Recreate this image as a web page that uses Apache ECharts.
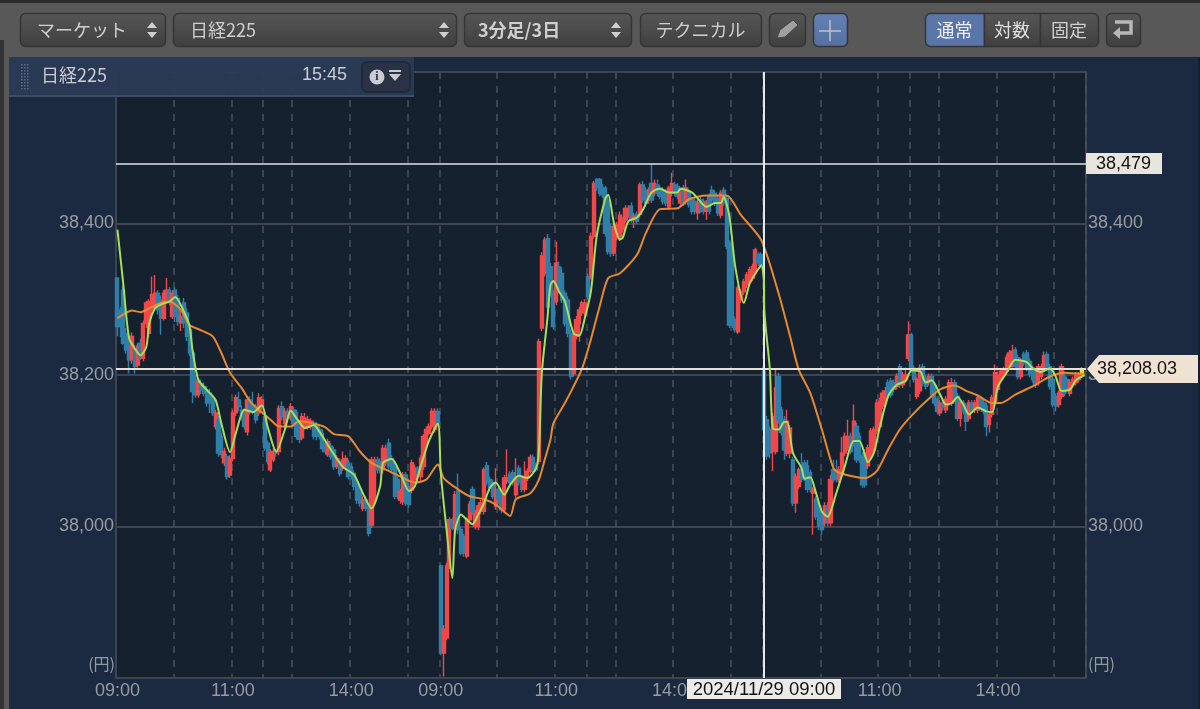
<!DOCTYPE html>
<html><head><meta charset="utf-8">
<style>html,body{margin:0;padding:0;background:#1b2a40}#c{width:1200px;height:709px}</style>
<script src="https://cdn.jsdelivr.net/npm/echarts@6/dist/echarts.min.js"></script>
</head><body><div id="c"></div>
<script>
// candles: [open, close, low, high]
const day1Candles=[
[38328,38264,38251,38328],[38286,38264,38250,38290],[38312,38242,38240,38318],[38255,38233,38228,38262],[38251,38220,38202,38255],[38220,38251,38215,38256],[38233,38211,38202,38240],[38213,38238,38210,38242],[38242,38224,38220,38248],[38222,38268,38218,38272],
[38268,38295,38262,38298],[38255,38297,38250,38300],[38286,38306,38280,38330],[38290,38308,38285,38332],[38308,38286,38280,38312],[38299,38275,38253,38305],[38275,38308,38272,38312],[38301,38312,38298,38328],[38312,38297,38292,38316],[38277,38308,38274,38312],
[38312,38277,38270,38316],[38301,38271,38265,38306],[38269,38277,38258,38285],[38295,38269,38262,38302],[38282,38251,38245,38288],[38260,38229,38225,38265],[38229,38178,38163,38232],[38194,38174,38170,38200],[38174,38191,38170,38196],[38189,38180,38175,38194],
[38185,38176,38172,38190],[38180,38163,38158,38185],[38176,38163,38150,38182],[38170,38150,38146,38174],[38132,38150,38128,38154],[38141,38097,38092,38146],[38119,38095,38090,38124],[38084,38099,38080,38104],[38092,38066,38062,38096],[38068,38090,38064,38094],
[38090,38150,38086,38154],[38150,38170,38146,38174],[38167,38158,38152,38178],[38154,38145,38140,38160],[38150,38132,38128,38156],[38125,38167,38120,38172],[38167,38152,38148,38172],[38158,38154,38148,38178],[38158,38141,38136,38162],[38150,38170,38146,38176],
[38158,38167,38154,38172],[38145,38104,38100,38150],[38110,38086,38082,38114],[38075,38097,38072,38102],[38088,38099,38085,38104],[38099,38097,38092,38102],[38099,38156,38094,38160],[38158,38145,38140,38165],[38136,38152,38132,38156],[38152,38143,38138,38156],
[38145,38158,38140,38163],[38154,38136,38132,38158],[38150,38119,38115,38154],[38136,38115,38110,38140],[38117,38145,38114,38150],[38132,38143,38128,38150],[38132,38141,38128,38146],[38132,38139,38128,38143],[38136,38119,38115,38140],[38134,38119,38114,38138],
[38128,38119,38115,38132],[38123,38103,38098,38128],[38110,38099,38095,38114],[38095,38112,38092,38116],[38106,38092,38088,38110],[38101,38079,38075,38105],[38079,38090,38076,38094],[38086,38070,38066,38090],[38077,38088,38074,38099],[38077,38090,38074,38094],
[38084,38066,38062,38088],[38079,38066,38062,38084],[38070,38053,38048,38074],[38057,38035,38030,38062],[38048,38031,38026,38052],[38024,38035,38020,38040],[38035,38024,38020,38040],[38024,37991,37987,38028],[38002,38088,37998,38092],[38035,38088,38030,38092],
[38088,38075,38070,38092],[38086,38075,38070,38090],[38075,38103,38070,38108],[38084,38103,38080,38108],[38110,38079,38075,38116],[38090,38075,38070,38094],[38079,38040,38036,38084],[38062,38040,38036,38066],[38035,38046,38030,38050],[38033,38068,38028,38072],
[38068,38031,38027,38072],[38053,38029,38025,38058],[38048,38084,38044,38088],[38062,38077,38058,38082],[38077,38070,38065,38080],[38066,38090,38060,38094],[38079,38119,38075,38122],[38110,38128,38105,38132],[38123,38132,38120,38136],[38132,38152,38128,38156],
[38128,38152,38124,38156],[38152,38137,38132,38156]];
const day2Candles=[
[37948,37833,37830,37950],[37833,37864,37802,37870],[37853,37948,37850,37952],[37948,38009,37944,38012],[38009,37998,37995,38012],[37998,38042,37990,38047],[38047,37996,37990,38070],[37996,37965,37962,38000],[37987,37965,37960,37990],[37961,38009,37958,38012],
[38009,38029,38005,38034],[38049,38020,38015,38053],[38000,38018,37996,38022],[38000,38027,37995,38032],[38020,38031,38016,38035],[38020,38075,38016,38078],[38080,38058,38054,38085],[38062,38051,38046,38066],[38058,38040,38036,38062],[38027,38049,38022,38077],
[38049,38036,38030,38054],[38040,38022,38018,38044],[38022,38064,38018,38068],[38060,38064,38056,38102],[38069,38058,38054,38073],[38071,38058,38054,38075],[38042,38064,38038,38090],[38077,38058,38054,38081],[38062,38049,38045,38066],[38049,38066,38045,38086],
[38064,38073,38060,38077],[38073,38091,38070,38095],[38091,38075,38072,38095],[38080,38075,38072,38084],[38086,38244,38082,38248],[38262,38357,38258,38362],[38334,38378,38330,38382],[38380,38290,38284,38386],[38343,38308,38304,38348],[38308,38264,38260,38312],
[38297,38348,38292,38376],[38343,38312,38308,38350],[38334,38299,38295,38342],[38308,38268,38264,38312],[38299,38255,38250,38304],[38255,38198,38194,38260],[38202,38251,38198,38255],[38251,38273,38247,38278],[38268,38286,38244,38290],[38282,38295,38278,38298],
[38282,38295,38278,38300],[38330,38304,38300,38334],[38330,38383,38326,38388],[38383,38453,38380,38456],[38458,38447,38443,38460],[38458,38440,38436,38460],[38447,38438,38434,38452],[38447,38387,38383,38450],[38431,38363,38359,38435],[38396,38361,38356,38400],
[38361,38396,38357,38400],[38381,38398,38378,38402],[38381,38411,38377,38416],[38392,38405,38388,38408],[38405,38420,38401,38424],[38412,38420,38408,38424],[38423,38405,38401,38428],[38405,38410,38394,38414],[38412,38403,38399,38416],[38412,38451,38408,38454],
[38451,38431,38427,38456],[38444,38427,38422,38448],[38431,38444,38426,38448],[38453,38431,38427,38479],[38440,38453,38436,38458],[38451,38440,38436,38458],[38447,38436,38432,38451],[38444,38429,38425,38448],[38442,38427,38423,38446],[38422,38447,38418,38450],
[38440,38453,38436,38467],[38451,38440,38436,38455],[38449,38436,38432,38453],[38427,38440,38423,38444],[38447,38427,38423,38451],[38429,38447,38425,38458],[38442,38425,38421,38446],[38431,38416,38412,38435],[38429,38416,38412,38433],[38414,38427,38405,38431],
[38431,38418,38414,38435],[38429,38416,38412,38433],[38416,38427,38405,38431],[38436,38416,38412,38440],[38444,38431,38427,38450],[38440,38427,38423,38444],[38433,38414,38410,38437],[38411,38440,38407,38444],[38444,38427,38423,38448],[38433,38370,38366,38437],
[38374,38266,38262,38378],[38365,38266,38262,38370],[38273,38260,38256,38277],[38257,38315,38254,38318],[38299,38310,38295,38314],[38310,38323,38306,38327],[38319,38332,38315,38336],[38323,38339,38319,38343],[38328,38343,38324,38347],[38337,38365,38333,38368],
[38359,38348,38344,38362],[38359,38345,38341,38362]];
const day3Candles=[
[38205,38128,38124,38208],[38141,38093,38088,38146],[38128,38097,38090,38132],[38099,38145,38073,38150],[38099,38183,38095,38207],[38198,38141,38136,38203],[38154,38124,38120,38158],[38141,38101,38088,38146],[38097,38139,38093,38154],[38097,38130,38090,38134],
[38088,38031,38027,38092],[38031,38066,38018,38070],[38053,38075,38050,38078],[38080,38062,38058,38097],[38084,38064,38060,38088],[38080,38049,38045,38088],[38071,38049,38045,38075],[38044,38049,37989,38052],[38036,38013,38009,38040],[38027,38000,37995,38032],
[38018,37996,37989,38022],[38005,38027,38000,38032],[38027,38005,38000,38032],[38005,38062,38000,38068],[38075,38062,38058,38088],[38075,38062,38058,38088],[38062,38075,38058,38080],[38071,38097,38067,38118],[38097,38119,38093,38124],[38104,38119,38100,38141],
[38119,38099,38095,38124],[38110,38139,38106,38161],[38132,38088,38084,38137],[38119,38088,38084,38124],[38093,38055,38051,38098],[38097,38055,38051,38102],[38080,38104,38076,38108],[38093,38126,38089,38130],[38101,38128,38097,38132],[38126,38163,38122,38168],
[38132,38165,38128,38170],[38159,38176,38155,38180],[38163,38179,38159,38184],[38190,38174,38170,38194],[38192,38174,38170,38196],[38190,38181,38177,38194],[38185,38198,38181,38202],[38211,38187,38183,38215],[38187,38200,38183,38204],[38194,38200,38190,38210],
[38222,38253,38218,38271],[38253,38207,38203,38256],[38209,38194,38190,38213],[38172,38194,38168,38198],[38179,38209,38175,38214],[38211,38189,38185,38215],[38196,38185,38181,38200],[38190,38198,38186,38202],[38198,38174,38170,38202],[38185,38163,38159,38190],
[38168,38152,38148,38172],[38150,38163,38146,38167],[38163,38157,38153,38167],[38154,38168,38150,38172],[38163,38190,38159,38194],[38163,38190,38159,38196],[38190,38168,38164,38194],[38172,38143,38139,38176],[38143,38163,38132,38167],[38163,38152,38148,38167],
[38159,38139,38126,38163],[38143,38163,38139,38167],[38163,38154,38150,38167],[38154,38163,38150,38167],[38154,38170,38150,38174],[38168,38159,38155,38172],[38163,38152,38148,38167],[38159,38132,38119,38163],[38135,38148,38124,38152],[38148,38170,38144,38174],
[38163,38203,38159,38214],[38181,38200,38177,38204],[38194,38205,38190,38209],[38200,38207,38196,38211],[38205,38223,38201,38227],[38211,38229,38207,38233],[38214,38231,38210,38240],[38233,38211,38207,38237],[38223,38198,38194,38227],[38198,38218,38194,38222],
[38227,38216,38212,38231],[38229,38209,38205,38233],[38218,38201,38197,38222],[38209,38194,38190,38213],[38205,38187,38183,38209],[38190,38211,38186,38215],[38198,38211,38194,38215],[38209,38225,38205,38231],[38227,38209,38205,38231],[38211,38185,38181,38215],
[38194,38161,38157,38198],[38172,38159,38152,38176],[38161,38176,38157,38180],[38172,38211,38168,38215],[38198,38176,38172,38202],[38194,38181,38177,38198],[38176,38190,38172,38194],[38187,38194,38183,38198],[38190,38200,38186,38204],[38194,38200,38190,38204],
[38202,38208.03,38200,38210]];
// moving averages read at selected bars: [bar in whole chart, price]
const fastAverage=[[0,38392],[2.3,38321],[4,38249],[6,38235],[8,38226],[9.6,38237],[11.3,38268],[13,38288],[15,38293],[18,38297],[20.4,38303],[23,38284],[24.6,38264],[26,38233],[28,38194],[31,38180],[33.8,38167],[36,38136],[39,38098],[41,38123],[43.6,38154],[47,38151],[50,38160],[52,38132],[55,38099],[57.5,38128],[60,38153],[62,38143],[65,38130],[68,38134],[70,38125],[74,38101],[77.6,38079],[82,38068],[85,38044],[88,38024],[90.7,38053],[92,38084],[95,38089],[98,38070],[101,38047],[103,38053],[105.4,38079],[108,38114],[110.6,38136],
[112,38071],[113.8,37996],[115.8,37932],[117.3,37996],[118.7,38016],[120.2,38013],[122.5,38003],[124.8,38016],[126.5,38031],[128.9,38051],[131.2,38058],[133.5,38042],[135.8,38055],[138.7,38067],[142,38064],[145,38077],[145.6,38101],[147,38202],[148.5,38277],[149.9,38319],[151,38324],[153,38310],[155.4,38297],[157.7,38255],[159.5,38252],[161.8,38277],[164,38310],[166.4,38383],[168.7,38433],[169.6,38438],[171.6,38400],[173.7,38379],[175,38381],[177.4,38403],[179.7,38408],[182,38418],[185.4,38441],[188.3,38446],[190.6,38441],[193.5,38441],[195,38446],[198.7,38441],[201,38433],[204,38422],[206.8,38427],[209,38427],[210.3,38435],[212,38409],[214.3,38343],[216.6,38295],[219,38321],[220.7,38334],[222.6,38345],[223.5,38317],
[224,38295],[225.6,38207],[227.3,38130],[228.5,38128],[230.8,38138],[232.3,38138],[234.3,38097],[236.6,38077],[238.3,38063],[240,38065],[241.8,38044],[244,38020],[246,38013],[248.7,38044],[251.6,38080],[255,38113],[257.4,38113],[260,38085],[262,38097],[264.3,38130],[267.2,38172],[270,38187],[273,38192],[274.7,38206],[278,38205],[280,38190],[281.6,38193],[284.5,38174],[286.8,38161],[289,38163],[290.9,38171],[293,38161],[295,38148],[298,38157],[301,38152],[303.3,38151],[305.3,38185],[308,38203],[311,38220],[314.5,38217],[317.4,38209],[319.7,38204],[322.6,38209],[325,38198],[327,38179],[329.5,38181],[331.9,38193],[334.5,38200]];
const slowAverage=[[0,38275],[2.6,38282],[5,38285],[8.4,38283],[11.3,38288],[14.8,38295],[18,38297],[21.7,38286],[25,38266],[28.6,38259],[32.7,38251],[35.6,38229],[39,38203],[42.5,38183],[46,38165],[49.4,38154],[52.9,38141],[56.4,38132],[59.8,38132],[63.3,38139],[67.9,38136],[72,38131],[75.4,38122],[80,38119],[84,38099],[88,38084],[93.3,38075],[98,38066],[103,38058],[106.6,38062],[110.6,38082],
[113.3,38064],[117.9,38049],[121.9,38040],[127,38036],[131,38029],[135.8,38014],[138,38036],[142.7,38044],[146,38062],[147.9,38088],[150.2,38115],[151.4,38136],[154.8,38163],[157.7,38185],[160.6,38209],[164,38247],[167,38290],[169.9,38328],[173.9,38334],[179.7,38359],[183,38387],[188.3,38419],[193.5,38420],[198,38432],[204,38437],[210.8,38437],[215.5,38411],[223,38378],
[228.5,38308],[233,38251],[236,38207],[239.5,38176],[243.5,38128],[247.6,38077],[250.4,38071],[254.5,38066],[258.5,38064],[263,38073],[267,38102],[271,38128],[274.7,38146],[280,38165],[284.5,38181],[289.7,38186],[293.7,38179],[298,38173],[303,38163],[306.4,38163],[311,38174],[318,38187],[323.2,38198],[327.8,38203],[334.5,38201]];
const highestPrice=38479, currentPrice=38208.03, crosshairBar=224;
const yTicks=[38000,38200,38400];
const labelBars=[0,40,81,112,152,193,224,264,305];
const labelTexts=['09:00','11:00','14:00','09:00','11:00','14:00','09:00','11:00','14:00'];
const gridBars=[20,40,51,61,81,101,112,132,152,163,173,193,213,224,244,264,275,285,305,325];
const barCount=336;

const up='#f2484a', down='#2f7fa8', fontUI='"Noto Sans CJK JP","Liberation Sans",sans-serif', fontLat='"Liberation Sans",sans-serif';
const categories=[];for(let i=0;i<barCount;i++){const k=labelBars.indexOf(i);categories.push(k>=0?labelTexts[k]:'');}
const candles=day1Candles.concat(day2Candles,day3Candles);
candles[candles.length-1]={value:candles[candles.length-1],itemStyle:{color:'#f0e030',color0:'#f0e030',borderColor:'#f0e030',borderColor0:'#f0e030'}};

const X0=116,Y0=72,W=970,H=606;
const g=[];
function grad(a,b){return {type:'linear',x:0,y:0,x2:0,y2:1,colorStops:[{offset:0,color:a},{offset:1,color:b}]};}
const btnFill=grad('#565656','#3f3f3f');
function btn(x,w,txt,o){o=o||{};
 g.push({type:'rect',z:100,shape:{x:x+.5,y:13.5,width:w,height:33,r:o.r!=null?o.r:5},style:{fill:o.fill||btnFill,stroke:'#353535',lineWidth:1.5}});
 if(txt)g.push({type:'text',z:101,style:{x:o.tx!=null?o.tx:x+w/2,y:30,text:txt,fill:o.color||'#cfcfcf',font:(o.bold?'bold ':'')+(o.size||18)+'px '+fontUI,textAlign:o.tx!=null?'left':'center',textVerticalAlign:'middle'}});
}
function spin(x){
 g.push({type:'polygon',z:101,shape:{points:[[x-5,28],[x+5,28],[x,22]]},style:{fill:'#cfcfcf'}});
 g.push({type:'polygon',z:101,shape:{points:[[x-5,32],[x+5,32],[x,38]]},style:{fill:'#cfcfcf'}});
}
// window chrome
g.push({type:'rect',z:99,shape:{x:0,y:0,width:1200,height:57},style:{fill:'#585858'}});
g.push({type:'rect',z:99,shape:{x:0,y:0,width:1200,height:3},style:{fill:'#2b2b2b'}});
g.push({type:'rect',z:99,shape:{x:0,y:3,width:9,height:706},style:{fill:'#585858'}});
g.push({type:'rect',z:99,shape:{x:0,y:40,width:4,height:669},style:{fill:'#333333'}});
btn(20,145,'マーケット',{tx:37});spin(152);
btn(173,283,'日経225',{tx:190});spin(444);
btn(464,167,'3分足/3日',{tx:478,bold:true});spin(616);
btn(640,121,'テクニカル');
btn(769,36,'');
g.push({type:'polygon',z:101,shape:{points:[[777,38],[780,30],[793,20],[798,25],[785,37]]},style:{fill:'#a0a0a0',stroke:'#4a4a4a',lineWidth:1}});
btn(813,34,'',{fill:grad('#6481b3','#5570a0')});
g.push({type:'line',z:101,shape:{x1:830,y1:20,x2:830,y2:41},style:{stroke:'#b8c2d4',lineWidth:1.5}});
g.push({type:'line',z:101,shape:{x1:819,y1:31,x2:841,y2:31},style:{stroke:'#b8c2d4',lineWidth:1.5}});
btn(925,59,'通常',{fill:'#5a76a8',color:'#f0f0f0',r:[5,0,0,5]});
btn(984,56,'対数',{color:'#e0e0e0',r:0});
btn(1040,58,'固定',{color:'#d0d0d0',r:[0,5,5,0]});
btn(1106,34,'');
g.push({type:'polyline',z:101,shape:{points:[[1115,22],[1131,22],[1131,33],[1119,33]]},style:{stroke:'#b8b8b8',fill:null,lineWidth:3.5}});
g.push({type:'polygon',z:101,shape:{points:[[1120,27],[1113,33],[1120,39]]},style:{fill:'#b8b8b8'}});
// right end of the page strip
g.push({type:'rect',z:99,shape:{x:1198,y:57,width:2,height:652},style:{fill:'#14202f'}});
// info panel
g.push({type:'rect',z:102,shape:{x:9,y:57,width:405,height:39},style:{fill:'#2b3a55',opacity:.96}});
g.push({type:'line',z:102,shape:{x1:9,y1:96,x2:414,y2:96},style:{stroke:'#3f4b63',lineWidth:2}});
for(let r=0;r<9;r++)for(let c=0;c<3;c++)g.push({type:'rect',z:103,shape:{x:21+c*3,y:64+r*3,width:1.5,height:1.5},style:{fill:'#5d6a80'}});
g.push({type:'text',z:103,style:{x:41,y:75,text:'日経225',fill:'#c9ccd2',font:'18px '+fontUI,textVerticalAlign:'middle'}});
g.push({type:'text',z:103,style:{x:302,y:75,text:'15:45',fill:'#c9ccd2',font:'18px '+fontLat,textVerticalAlign:'middle'}});
g.push({type:'rect',z:103,shape:{x:362,y:62,width:48,height:30,r:5},style:{fill:'#2a3346',stroke:'#1f2636',lineWidth:1.5}});
g.push({type:'circle',z:104,shape:{cx:377,cy:77,r:7.5},style:{fill:'#c9ccd2'}});
g.push({type:'text',z:105,style:{x:377,y:77,text:'i',fill:'#2a3346',font:'bold 12px "Liberation Serif",serif',textAlign:'center',textVerticalAlign:'middle'}});
g.push({type:'rect',z:104,shape:{x:389,y:70,width:12,height:2},style:{fill:'#c9ccd2'}});
g.push({type:'polygon',z:104,shape:{points:[[389,74],[401,74],[395,81]]},style:{fill:'#c9ccd2'}});
// unit labels
[[115,'right'],[1088,'left']].forEach(p=>g.push({type:'text',z:90,style:{x:p[0],y:664,text:'(円)',fill:'#989ca2',font:'16px '+fontUI,textAlign:p[1],textVerticalAlign:'middle'}}));
// value tags
g.push({type:'rect',z:95,shape:{x:1086,y:153,width:76,height:21},style:{fill:'#e8e5dd'}});
g.push({type:'text',z:96,style:{x:1096,y:164,text:'38,479',fill:'#111',font:'18px '+fontLat,textVerticalAlign:'middle'}});
g.push({type:'polygon',z:95,shape:{points:[[1087,369],[1099,355],[1200,355],[1200,383],[1099,383]]},style:{fill:'#efe2d2'}});
g.push({type:'text',z:96,style:{x:1097,y:369.5,text:'38,208.03',fill:'#111',font:'18px '+fontLat,textVerticalAlign:'middle'}});
g.push({type:'rect',z:95,shape:{x:687,y:679,width:154,height:20},style:{fill:'#eceae6'}});
g.push({type:'text',z:96,style:{x:764,y:689.5,text:'2024/11/29 09:00',fill:'#111',font:'18.5px '+fontLat,textAlign:'center',textVerticalAlign:'middle'}});

function yAxis(pos){return {type:'value',position:pos,min:37800,max:38600,interval:200,scale:true,
 axisLine:{show:false},axisTick:{show:false},
 axisLabel:{margin:2,color:'#989ca2',fontSize:18,fontFamily:'Liberation Sans',
  formatter:v=>yTicks.includes(v)?v.toLocaleString('en-US'):''},
 splitLine:{show:pos==='left',lineStyle:{color:'#3d4552',width:2}}};}

const chart=echarts.init(document.getElementById('c'),null,{renderer:'canvas'});
chart.setOption({animation:false,backgroundColor:'#1b2a40',
 grid:{left:X0,top:Y0,width:W,height:H,show:true,backgroundColor:'#162130',borderColor:'#3d4552',borderWidth:2},
 xAxis:{type:'category',data:categories,boundaryGap:true,
  axisLine:{show:false},axisTick:{show:false},
  axisLabel:{margin:4,color:'#989ca2',fontSize:18,fontFamily:'Liberation Sans',interval:(i)=>labelBars.includes(i),hideOverlap:false},
  splitLine:{show:true,interval:(i)=>gridBars.includes(i),lineStyle:{color:'#48505e',width:1.5,type:[7,7]}}},
 yAxis:[yAxis('left'),yAxis('right')],
 series:[
  {type:'candlestick',data:candles,barWidth:3.6,silent:true,
   itemStyle:{color:up,color0:down,borderColor:up,borderColor0:down,borderWidth:1.4},
   markLine:{silent:true,symbol:'none',label:{show:false},animation:false,data:[
     {yAxis:highestPrice,lineStyle:{color:'#dfe3e6',width:1.5,type:'solid'}},
     {yAxis:currentPrice,lineStyle:{color:'#e8e0d2',width:2,type:'solid'}},
     {xAxis:crosshairBar,lineStyle:{color:'#e6e9ec',width:2,type:'solid'}}]}},
  {type:'line',data:slowAverage,showSymbol:false,symbol:'none',smooth:.25,silent:true,z:4,lineStyle:{color:'#e8892f',width:2}},
  {type:'line',data:fastAverage,showSymbol:false,symbol:'none',smooth:.25,silent:true,z:5,lineStyle:{color:'#a6e05a',width:2}}
 ],
 graphic:{elements:g}
});
</script></body></html>
